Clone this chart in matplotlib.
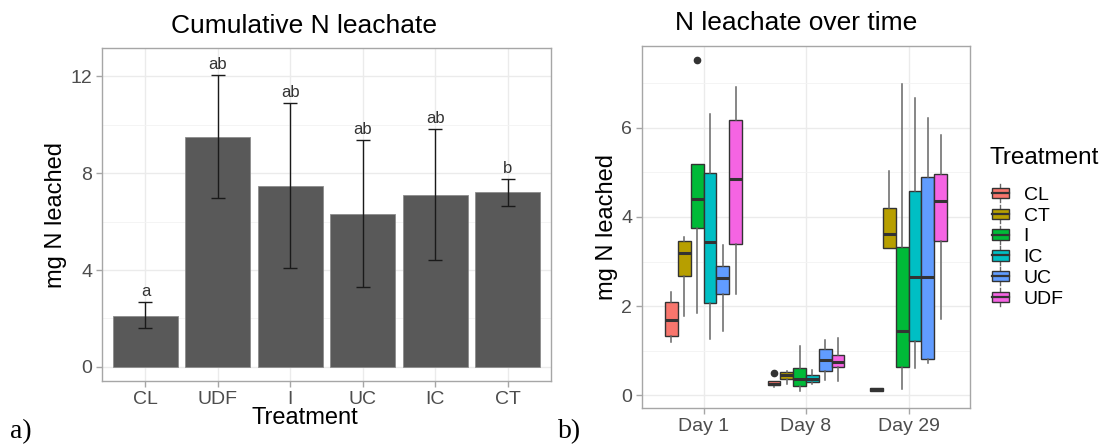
import matplotlib
matplotlib.use("Agg")
import matplotlib.pyplot as plt
from matplotlib.patches import Patch, Rectangle
from matplotlib.lines import Line2D
from matplotlib.legend_handler import HandlerPatch

plt.rcParams['font.family'] = ['Liberation Sans', 'DejaVu Sans']

# cumulative leachate per treatment (mean with error range)
bar_treatments = ['CL', 'UDF', 'I', 'UC', 'IC', 'CT']
bar_means = [2.12, 9.50, 7.48, 6.32, 7.09, 7.20]
bar_lower = [1.59, 6.97, 4.07, 3.30, 4.40, 6.65]
bar_upper = [2.68, 12.04, 10.91, 9.35, 9.83, 7.77]
bar_letters = ['a', 'ab', 'ab', 'ab', 'ab', 'b']

# boxplot summaries over time: (whisker low, q1, median, q3, whisker high)
days = ['Day 1', 'Day 8', 'Day 29']
box_treatments = ['CL', 'CT', 'I', 'IC', 'UC', 'UDF']
box_colors = ['#F8766D', '#B79F00', '#00BA38', '#00BFC4', '#619CFF', '#F564E3']
day1 = [(1.19, 1.33, 1.69, 2.08, 2.31),
        (1.77, 2.67, 3.18, 3.45, 3.56),
        (1.84, 3.75, 4.41, 5.20, 5.20),
        (1.26, 2.07, 3.44, 4.98, 6.31),
        (1.43, 2.26, 2.64, 2.89, 3.36),
        (2.26, 3.39, 4.85, 6.18, 6.91)]
day8 = [(0.19, 0.23, 0.26, 0.32, 0.32),
        (0.26, 0.36, 0.45, 0.52, 0.55),
        (0.10, 0.21, 0.36, 0.60, 1.11),
        (0.25, 0.29, 0.37, 0.44, 0.56),
        (0.35, 0.53, 0.78, 1.03, 1.24),
        (0.32, 0.62, 0.74, 0.89, 1.29)]
day29 = [(0.10, 0.10, 0.14, 0.17, 0.17),
         (3.31, 3.31, 3.62, 4.20, 5.04),
         (0.13, 0.62, 1.45, 3.33, 6.99),
         (0.61, 1.21, 2.66, 4.58, 6.67),
         (0.71, 0.81, 2.66, 4.90, 6.22),
         (1.71, 3.45, 4.35, 4.97, 5.85)]
outliers = {(0, 'I'): [7.52], (1, 'CL'): [0.49]}

W, H = 1104, 444
fig = plt.figure(figsize=(W / 100, H / 100), dpi=100)

grid_major = '#EBEBEB'
border = '#A6A6A6'
tick_col = '#4D4D4D'


def style_axes(ax):
    for s in ax.spines.values():
        s.set_color(border)
        s.set_linewidth(1.0)
    ax.tick_params(colors=border, labelcolor=tick_col, labelsize=14, length=4, width=1, pad=3)
    ax.tick_params(which='minor', length=0)
    ax.grid(True, which='major', color=grid_major, lw=1.0)
    ax.grid(True, which='minor', color='#F3F3F3', lw=0.6)
    ax.set_axisbelow(True)


# ---- a) bar chart ----
ax1 = fig.add_axes([102 / W, 1 - 381 / H, 449 / W, 333 / H])
xpos = list(range(1, len(bar_treatments) + 1))
ax1.bar(xpos, bar_means, width=0.9, color='#595959', edgecolor='#8C8C8C', linewidth=0.6, zorder=2)
yerr = [[m - lo for m, lo in zip(bar_means, bar_lower)],
        [hi - m for m, hi in zip(bar_means, bar_upper)]]
ax1.errorbar(xpos, bar_means, yerr=yerr, fmt='none', ecolor='#1A1A1A', elinewidth=1.0,
             capsize=5.2, capthick=1.0, zorder=3)
for x, hi, lab in zip(xpos, bar_upper, bar_letters):
    ax1.text(x, hi + 0.12, lab, ha='center', va='bottom', fontsize=12, color='#333333', zorder=4)
ax1.set_xlim(0.4, 6.6)
ax1.set_ylim(-0.58, 13.16)
ax1.set_xticks(xpos)
ax1.set_xticklabels(bar_treatments)
ax1.set_yticks([0, 4, 8, 12])
ax1.set_yticks([2, 6, 10], minor=True)
style_axes(ax1)
fig.text(304 / W, 1 - 26 / H, 'Cumulative N leachate', ha='center', va='center', fontsize=19)
fig.text(56 / W, 1 - 215 / H, 'mg N leached', ha='center', va='center', rotation=90, fontsize=17)
fig.text(305 / W, 1 - 418 / H, 'Treatment', ha='center', va='center', fontsize=17)
fig.text(10 / W, 1 - 432 / H, 'a)', ha='left', va='center', fontsize=20, family='Liberation Serif')

# ---- b) boxplots ----
ax2 = fig.add_axes([642 / W, 1 - 408 / H, 328 / W, 362 / H])
slot = 0.75 / len(box_treatments)
for d, day_stats in enumerate([day1, day8, day29]):
    for k, (trt, st) in enumerate(zip(box_treatments, day_stats)):
        stats = [dict(whislo=st[0], q1=st[1], med=st[2], q3=st[3], whishi=st[4],
                      fliers=outliers.get((d, trt), []))]
        pos = d + 1 + (k - (len(box_treatments) - 1) / 2) * slot
        ax2.bxp(stats, positions=[pos], widths=slot, patch_artist=True, showcaps=False,
                boxprops=dict(facecolor=box_colors[k], edgecolor='#333333', linewidth=1.0),
                whiskerprops=dict(color='#666666', linewidth=1.1),
                medianprops=dict(color='#333333', linewidth=2.2),
                flierprops=dict(marker='o', markerfacecolor='#333333', markeredgecolor='#333333',
                                markersize=4.5),
                manage_ticks=False, zorder=2)
ax2.set_xlim(0.4, 3.6)
ax2.set_ylim(-0.29, 7.84)
ax2.set_xticks([1, 2, 3])
ax2.set_xticklabels(days)
ax2.set_yticks([0, 2, 4, 6])
ax2.set_yticks([1, 3, 5, 7], minor=True)
style_axes(ax2)
fig.text(796 / W, 1 - 23 / H, 'N leachate over time', ha='center', va='center', fontsize=19)
fig.text(607 / W, 1 - 227 / H, 'mg N leached', ha='center', va='center', rotation=90, fontsize=17)
fig.text(558 / W, 1 - 432 / H, 'b)', ha='left', va='center', fontsize=20, family='Liberation Serif')


class BoxKeyHandler(HandlerPatch):
    def create_artists(self, legend, orig_handle, xdescent, ydescent, width, height, fontsize, trans):
        x0, y0 = -xdescent, -ydescent
        cx = x0 + width / 2
        rect = Rectangle((x0, y0 + height * 0.1), width, height * 0.8,
                         facecolor=orig_handle.get_facecolor(), edgecolor='#333333', lw=1.0,
                         transform=trans)
        med = Line2D([x0, x0 + width], [y0 + height / 2] * 2, color='#333333', lw=1.6, transform=trans)
        top = Line2D([cx, cx], [y0 + height * 0.9, y0 + height * 1.2], color='#666666', lw=1, transform=trans)
        bot = Line2D([cx, cx], [y0 - height * 0.2, y0 + height * 0.1], color='#666666', lw=1, transform=trans)
        return [top, bot, rect, med]


# legend: title placed on its own so the gap to the first key can be set
fig.text(989 / W, 1 - 158 / H, 'Treatment', ha='left', va='center', fontsize=17.5)
handles = [Patch(facecolor=c, label=t) for t, c in zip(box_treatments, box_colors)]
leg = fig.legend(handles=handles, loc='upper left',
                 bbox_to_anchor=(974 / W, 1 - 169 / H), frameon=False, fontsize=14,
                 handler_map={Patch: BoxKeyHandler()},
                 handlelength=0.9, handleheight=0.65, handletextpad=0.75, labelspacing=0.18)

fig.savefig('out.png', dpi=100)
